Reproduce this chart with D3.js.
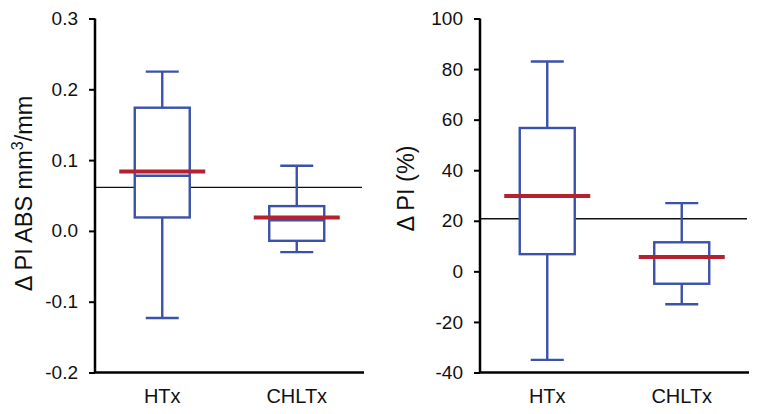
<!DOCTYPE html>
<html><head><meta charset="utf-8">
<script src="https://cdn.jsdelivr.net/npm/d3@7"></script>
<style>body{margin:0;background:#fff}svg{display:block;font-family:"Liberation Sans",Arial,sans-serif}</style>
</head><body><svg id="c" width="762" height="414"></svg>
<script>
const categories = ["HTx", "CHLTx"];
// left panel: Δ PI ABS (mm³/mm)
const absWhiskerLow = [-0.123, -0.030];
const absQ1 = [0.019, -0.014];
const absMedian = [0.078, 0.015];
const absQ3 = [0.174, 0.035];
const absWhiskerHigh = [0.225, 0.092];
const absMean = [0.084, 0.019];
const absRef = 0.0615;
const absTicks = [-0.2, -0.1, 0.0, 0.1, 0.2, 0.3];
// right panel: Δ PI (%)
const pctWhiskerLow = [-35, -13];
const pctQ1 = [6.8, -4.9];
const pctMedian = [30, 5.5];
const pctQ3 = [56.7, 11.5];
const pctWhiskerHigh = [83, 27];
const pctMean = [29.8, 5.7];
const pctRef = 20.8;
const pctTicks = [-40, -20, 0, 20, 40, 60, 80, 100];

const svg = d3.select("#c");
const BLUE = "#3a52a8", RED = "#b5212e";
const hy = f => d => f(d).replace("\u2212", "-");

function panel(o) {
  const g = svg.append("g");
  const y = d3.scaleLinear().domain(o.domain).range([372.5, 18.5]);
  const x = d3.scaleBand().domain(categories).range([o.x0, o.x1]).padding(0);
  const cx = c => x(c) + x.bandwidth() / 2 + o.shift;
  // reference line
  g.append("line").attr("x1", o.x0).attr("x2", o.x1 - 2).attr("y1", y(o.ref)).attr("y2", y(o.ref))
    .attr("stroke", "#111").attr("stroke-width", 1.3);
  categories.forEach((c, i) => {
    const m = cx(c), bw = 27.5, cap = 16.5, mh = 43;
    const s = {stroke: BLUE, "stroke-width": 2.4, fill: "none"};
    const L = (x1, y1, x2, y2, st) => { const l = g.append("line").attr("x1", x1).attr("y1", y1).attr("x2", x2).attr("y2", y2); Object.entries(st).forEach(([k, v]) => l.attr(k, v)); };
    L(m, y(o.wh[i]), m, y(o.q3[i]), s);
    L(m, y(o.wl[i]), m, y(o.q1[i]), s);
    L(m - cap, y(o.wh[i]), m + cap, y(o.wh[i]), s);
    L(m - cap, y(o.wl[i]), m + cap, y(o.wl[i]), s);
    g.append("rect").attr("x", m - bw).attr("width", 2 * bw).attr("y", y(o.q3[i])).attr("height", y(o.q1[i]) - y(o.q3[i]))
      .attr("fill", "#fff").attr("stroke", BLUE).attr("stroke-width", 2.4);
    L(m - bw, y(o.med[i]), m + bw, y(o.med[i]), {stroke: BLUE, "stroke-width": 2.6});
    L(m - mh, y(o.mean[i]), m + mh, y(o.mean[i]), {stroke: RED, "stroke-width": 4});
  });
  // y axis
  const ax = g.append("g").attr("transform", `translate(${o.x0},0)`)
    .call(d3.axisLeft(y).tickValues(o.ticks).tickFormat(hy(o.fmt)).tickSize(6).tickPadding(11));
  ax.select(".domain").attr("stroke", "#000").attr("stroke-width", 2.5).attr("d", `M0,${y(o.domain[1])}V${y(o.domain[0])}`);
  ax.selectAll(".tick line").attr("stroke", "#000").attr("stroke-width", 2);
  ax.selectAll(".tick text").attr("font-size", 19).attr("fill", "#111").attr("font-family", "Liberation Sans, Arial, sans-serif");
  // x axis baseline
  g.append("line").attr("x1", o.x0 - 1).attr("x2", o.x1).attr("y1", 372.5).attr("y2", 372.5).attr("stroke", "#000").attr("stroke-width", 2.5);
  categories.forEach(c => {
    g.append("text").attr("x", cx(c)).attr("y", 402.5).attr("text-anchor", "middle").attr("font-size", 20).attr("fill", "#111").text(c);
  });
  // y label
  const t = g.append("text").attr("transform", `translate(${o.lx},${o.ly}) rotate(-90)`).attr("text-anchor", "middle")
    .attr("font-size", 23.5).attr("fill", "#111");
  o.label(t);
}

panel({domain: [-0.2, 0.3], x0: 95, x1: 364, shift: 0, ref: absRef, ticks: absTicks, fmt: d3.format(".1f"),
  wl: absWhiskerLow, q1: absQ1, med: absMedian, q3: absQ3, wh: absWhiskerHigh, mean: absMean,
  lx: 32, ly: 193.5, label: t => { t.append("tspan").text("\u0394 PI ABS mm"); t.append("tspan").attr("font-size", 16).attr("dy", -9).text("3"); t.append("tspan").attr("dy", 9).text("/mm"); }});
panel({domain: [-40, 100], x0: 480, x1: 749, shift: 0, ref: pctRef, ticks: pctTicks, fmt: d3.format("d"),
  wl: pctWhiskerLow, q1: pctQ1, med: pctMedian, q3: pctQ3, wh: pctWhiskerHigh, mean: pctMean,
  lx: 414, ly: 188.5, label: t => t.text("\u0394 PI (%)")});
</script></body></html>
